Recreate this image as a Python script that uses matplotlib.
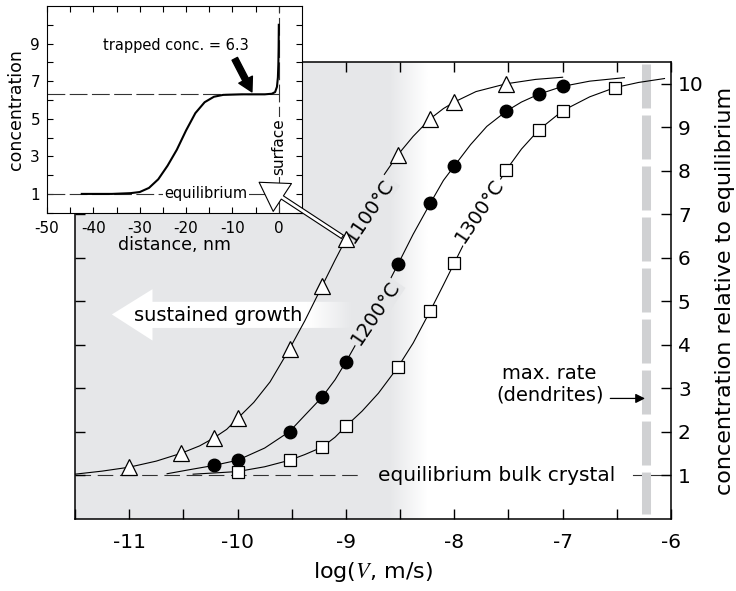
import numpy as np
import matplotlib
matplotlib.use('Agg')
import matplotlib.pyplot as plt
from matplotlib.patches import Polygon

plt.rcParams['font.family'] = 'DejaVu Sans'
plt.rcParams['mathtext.fontset'] = 'stix'
plt.rcParams['axes.unicode_minus'] = False

# measured points, log10(V / m/s) vs concentration relative to equilibrium
x_1100 = [-11.0, -10.52, -10.22, -10.0, -9.52, -9.22, -9.0, -8.52, -8.22, -8.0, -7.52]
y_1100 = [1.19, 1.51, 1.86, 2.31, 3.91, 5.35, 6.43, 8.37, 9.20, 9.58, 10.0]
x_1200 = [-10.22, -10.0, -9.52, -9.22, -9.0, -8.52, -8.22, -8.0, -7.52, -7.22, -7.0]
y_1200 = [1.23, 1.35, 2.01, 2.80, 3.61, 5.85, 7.26, 8.11, 9.37, 9.76, 9.94]
x_1300 = [-10.0, -9.52, -9.22, -9.0, -8.52, -8.22, -8.0, -7.52, -7.22, -7.0, -6.52]
y_1300 = [1.08, 1.35, 1.65, 2.13, 3.49, 4.79, 5.88, 8.02, 8.94, 9.38, 9.91]

# fitted curves through the points
fit_x_1100 = [-11.5, -11.25, -11.0, -10.75, -10.52, -10.35, -10.22, -10.1, -10.0, -9.85, -9.7,
              -9.52, -9.38, -9.22, -9.1, -9.0, -8.85, -8.7, -8.52, -8.38, -8.22, -8.1, -8.0,
              -7.8, -7.52, -7.25, -7.0]
fit_y_1100 = [1.03, 1.10, 1.19, 1.33, 1.51, 1.68, 1.86, 2.06, 2.31, 2.68, 3.15,
              3.91, 4.55, 5.35, 5.95, 6.43, 7.08, 7.72, 8.37, 8.79, 9.20, 9.43, 9.58,
              9.82, 10.0, 10.1, 10.15]
fit_x_1200 = [-10.65, -10.45, -10.22, -10.0, -9.75, -9.52, -9.38, -9.22, -9.1, -9.0, -8.85,
              -8.7, -8.52, -8.38, -8.22, -8.1, -8.0, -7.85, -7.7, -7.52, -7.38, -7.22,
              -7.0, -6.75, -6.43]
fit_y_1200 = [1.04, 1.13, 1.23, 1.35, 1.63, 2.01, 2.38, 2.80, 3.20, 3.61, 4.27,
              4.98, 5.85, 6.54, 7.26, 7.78, 8.11, 8.60, 9.02, 9.37, 9.58, 9.76,
              9.94, 10.06, 10.14]
fit_x_1300 = [-10.41, -10.2, -10.0, -9.75, -9.52, -9.38, -9.22, -9.1, -9.0, -8.85, -8.7,
              -8.52, -8.38, -8.22, -8.1, -8.0, -7.85, -7.7, -7.52, -7.38, -7.22, -7.1,
              -7.0, -6.75, -6.52, -6.3, -6.06]
fit_y_1300 = [1.03, 1.06, 1.09, 1.20, 1.35, 1.48, 1.65, 1.88, 2.13, 2.48, 2.89,
              3.49, 4.04, 4.79, 5.38, 5.88, 6.63, 7.30, 8.02, 8.50, 8.94, 9.18,
              9.38, 9.70, 9.91, 10.03, 10.12]

eq_level = 1.0
max_rate_logv = -6.23

# concentration profile near the surface (inset)
prof_x = [-42.5, -36, -32, -30, -28, -26, -24, -22, -20, -18, -16, -14, -12, -8, -3,
          -1.5, -0.8, -0.4, -0.2, -0.1, -0.04, 0.0]
prof_y = [1.0, 1.0, 1.04, 1.1, 1.32, 1.78, 2.5, 3.35, 4.38, 5.3, 5.88, 6.17, 6.27, 6.3, 6.3,
          6.33, 6.42, 6.7, 7.2, 7.9, 8.8, 10.0]
trapped = 6.3

gray = np.array([0.902, 0.906, 0.914])

fig = plt.figure(figsize=(7.36, 5.91), dpi=100)
ax = fig.add_axes([75/736, 1-519/591, 596/736, 457/591])

# grey background fading to white around log V = -8.4
gx = np.linspace(-11.5, -6, 551)
t = np.clip((gx + 8.6) / 0.35, 0, 1)
bg = gray[None, :] + (1 - gray[None, :]) * t[:, None]
ax.imshow(bg[None, :, :], extent=[-11.5, -6, 0, 10.5], aspect='auto', zorder=0,
          interpolation='bilinear')

# "sustained growth" arrow
arr = Polygon([(-11.16, 4.70), (-10.785, 5.28), (-10.785, 4.99), (-8.945, 4.99),
               (-8.945, 4.39), (-10.785, 4.39), (-10.785, 4.10)],
              closed=True, fc='none', ec='none')
ax.add_patch(arr)
ax_g = np.linspace(-11.2, -8.94, 300)
ta = np.clip((ax_g + 9.35) / 0.41, 0, 1)
ag = np.ones((300, 3)) + (gray[None, :] - 1) * ta[:, None]
im = ax.imshow(ag[None, :, :], extent=[-11.2, -8.94, 4.05, 5.35], aspect='auto', zorder=1,
               interpolation='bilinear')
im.set_clip_path(arr)
ax.text(-10.18, 4.68, 'sustained growth', ha='center', va='center', fontsize=14, zorder=2)

# equilibrium level
dash = (0, (14, 6))
ax.plot([-11.5, -8.84], [eq_level, eq_level], color='#333333', lw=0.8, ls=dash, zorder=1.5)
ax.plot([-6.35, -6.0], [eq_level, eq_level], color='#333333', lw=0.8, zorder=1.5)
ax.text(-7.61, eq_level, 'equilibrium bulk crystal', ha='center', va='center', fontsize=14.5)

# dendritic growth limit
ax.plot([max_rate_logv, max_rate_logv], [10.45, 0.12], color='#d0d1d3', lw=6.5,
        ls=(0, (4.87, 0.78)), dash_capstyle='butt', zorder=1.6)
ax.text(-7.12, 3.1, 'max. rate\n(dendrites)', ha='center', va='center', fontsize=14,
        linespacing=1.15)
ax.annotate('', xy=(max_rate_logv - 0.01, 2.77), xytext=(-6.56, 2.77),
            arrowprops=dict(arrowstyle='-|>', color='black', lw=0.9, mutation_scale=14,
                            shrinkA=0, shrinkB=0))

# curves and points
for fx, fy in [(fit_x_1100, fit_y_1100), (fit_x_1200, fit_y_1200), (fit_x_1300, fit_y_1300)]:
    ax.plot(fx, fy, color='black', lw=0.8, zorder=2)
ax.plot(x_1100, y_1100, ls='none', marker='^', ms=12, mfc='white', mec='black', mew=0.9, zorder=4)
ax.plot(x_1200, y_1200, ls='none', marker='o', ms=9, mfc='black', mec='black', zorder=4)
ax.plot(x_1300, y_1300, ls='none', marker='s', ms=8.5, mfc='white', mec='black', mew=0.9, zorder=4)

lab_kw = dict(ha='center', va='center', rotation=56, rotation_mode='anchor', fontsize=14, zorder=3)
ax.text(-8.78, 7.08, '1100°C', bbox=dict(boxstyle='square,pad=0.08', fc=gray, ec='none'), **lab_kw)
ax.text(-8.73, 4.73, '1200°C', bbox=dict(boxstyle='square,pad=0.08', fc=gray, ec='none'), **lab_kw)
ax.text(-7.77, 7.08, '1300°C', bbox=dict(boxstyle='square,pad=0.08', fc='white', ec='none'), **lab_kw)

ax.set_xlim(-11.5, -6)
ax.set_ylim(0, 10.5)
ax.set_xticks(range(-11, -5))
ax.set_xticks(np.arange(-11.5, -6, 0.5), minor=True)
ax.set_yticks(range(1, 11))
ax.tick_params(which='both', direction='in', top=True, right=True, length=7, width=1)
ax.tick_params(axis='x', labelsize=14.5, pad=10)
ax.tick_params(axis='y', labelleft=False, labelright=True, labelsize=14.5, pad=5)
for s in ax.spines.values():
    s.set_linewidth(1.1)
ax.yaxis.set_label_position('right')
ax.set_ylabel('concentration relative to equilibrium', fontsize=16, labelpad=8)
ax.set_xlabel(r'log($V$, m/s)', fontsize=16, labelpad=6)

# inset: concentration profile
ax_in = fig.add_axes([47/736, 1-212.7/591, 255/736, 206.7/591])
ax_in.set_zorder(5)
ax_in.set_facecolor('white')
ax_in.plot([-50, 0], [trapped, trapped], color='#333333', lw=0.8, ls=(0, (16, 4)))
ax_in.plot([-50, 0], [eq_level, eq_level], color='#333333', lw=0.8, ls=(0, (16, 4)))
ax_in.plot([0, 0], [0, 11], color='#333333', lw=0.8, ls=(0, (16, 4)))
ax_in.plot(prof_x, prof_y, color='black', lw=1.5)
ax_in.text(-15.8, eq_level, 'equilibrium', ha='center', va='center', fontsize=10.5,
           bbox=dict(boxstyle='square,pad=0.1', fc='white', ec='none'))
ax_in.text(0, 3.5, 'surface', ha='center', va='center', rotation=90, fontsize=11,
           bbox=dict(boxstyle='square,pad=0.1', fc='white', ec='none'))
ax_in.text(-22.2, 8.9, 'trapped conc. = %.1f' % trapped, ha='center', va='center', fontsize=10.5)
ax_in.annotate('', xy=(-5.8, 6.43), xytext=(-9.5, 8.19),
               arrowprops=dict(arrowstyle='simple,head_length=0.9,head_width=1.0,tail_width=0.4',
                               fc='black', ec='black', mutation_scale=11, shrinkA=0, shrinkB=0))
ax_in.annotate('', xy=(-4.25, 1.62), xytext=(x_1100[6], y_1100[6]), textcoords=ax.transData,
               annotation_clip=False,
               arrowprops=dict(arrowstyle='simple,head_length=2.0,head_width=2.4,tail_width=0.28',
                               fc='white', ec='black', lw=0.8, mutation_scale=10,
                               shrinkA=3, shrinkB=0))
ax_in.set_xlim(-50, 5)
ax_in.set_ylim(0, 11)
ax_in.set_xticks(range(-50, 1, 10))
ax_in.set_xticks(range(-45, 5, 5), minor=True)
ax_in.set_yticks([1, 3, 5, 7, 9])
ax_in.set_yticks(range(0, 11), minor=True)
ax_in.tick_params(which='both', direction='in', top=True, right=True, length=4, width=0.8,
                  labelsize=11)
ax_in.tick_params(axis='x', pad=6)
ax_in.tick_params(axis='y', pad=5)
ax_in.set_xlabel('distance, nm', fontsize=12.5, labelpad=0)
ax_in.set_ylabel('concentration', fontsize=12.5, labelpad=4)

fig.savefig('out.png', dpi=100)
